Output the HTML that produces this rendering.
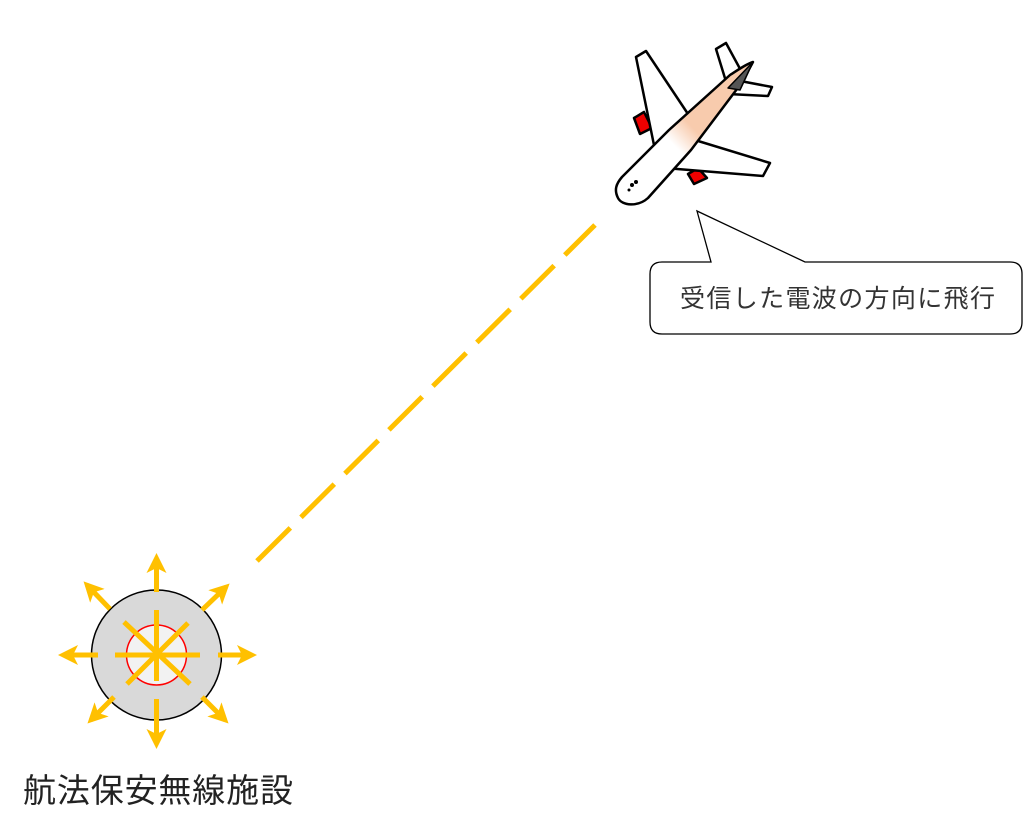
<!DOCTYPE html>
<html><head><meta charset="utf-8"><style>
html,body{margin:0;padding:0;background:#fff;width:1024px;height:834px;overflow:hidden}
svg{display:block}
</style></head><body>
<svg width="1024" height="834" viewBox="0 0 1024 834" xmlns="http://www.w3.org/2000/svg">
<defs>
<marker id="ah" markerWidth="4" markerHeight="4" refX="3" refY="2" orient="auto" markerUnits="strokeWidth">
<path d="M0,0 L4,2 L0,4 L1,2 Z" fill="#FFC000"/>
</marker>
<linearGradient id="fg" x1="0" y1="1" x2="1" y2="0">
<stop offset="0.42" stop-color="#fff"/><stop offset="0.55" stop-color="#f8cbad"/><stop offset="1" stop-color="#f8cbad"/></linearGradient>
</defs>
<line x1="257" y1="561" x2="595" y2="225" stroke="#FFC000" stroke-width="5" stroke-dasharray="47 15"/>
<circle cx="156.5" cy="655" r="65" fill="#d9d9d9" stroke="#000" stroke-width="1.5"/>
<circle cx="156.5" cy="655" r="30" fill="#f2f2f2" stroke="#ff0000" stroke-width="1.5"/>
<g stroke="#FFC000" stroke-width="5">
<line x1="156.5" y1="610" x2="156.5" y2="681"/>
<line x1="115" y1="655" x2="200" y2="655"/>
<line x1="124" y1="622" x2="190" y2="684"/>
<line x1="188" y1="623" x2="127" y2="684"/>
</g>
<g stroke="#FFC000" stroke-width="5" marker-end="url(#ah)">
<line x1="156.5" y1="592" x2="156.5" y2="558"/>
<line x1="156.5" y1="699" x2="156.5" y2="744"/>
<line x1="218" y1="655" x2="252" y2="655"/>
<line x1="98" y1="655" x2="63" y2="655"/>
<line x1="202" y1="610" x2="226" y2="587"/>
<line x1="110" y1="609" x2="87" y2="585"/>
<line x1="202" y1="697" x2="225" y2="720"/>
<line x1="114" y1="697" x2="91" y2="720"/>
</g>
<text x="23" y="802" font-family="'Liberation Sans','Noto Sans CJK JP',sans-serif" font-size="33" fill="#222" textLength="270">航法保安無線施設</text>
<path d="M662,262 L711,262 L697,211 L805,262 L1010,262 Q1022,262 1022,274 L1022,322 Q1022,334 1010,334 L662,334 Q650,334 650,322 L650,274 Q650,262 662,262 Z" fill="#fff" stroke="#000" stroke-width="1.3"/>
<text x="680" y="307" font-family="'Liberation Sans','Noto Sans CJK JP',sans-serif" font-size="25" fill="#333" textLength="315">受信した電波の方向に飛行</text>
<g stroke="#000" stroke-width="2.5" stroke-linejoin="round">
<path d="M634,118 L644,112 L652,128 L640,134 Z" fill="#e00"/>
<path d="M688,174 L698,168 L707,178 L694,184 Z" fill="#e00"/>
<path d="M636,57 L646,51 L692,120 L655,150 Z" fill="#fff"/>
<path d="M685,137 L770,163 L763,176 L665,168 Z" fill="#fff"/>
<path d="M716,49 L726,43 L745,78 L728,88 Z" fill="#fff"/>
<path d="M735,80 L772,87 L768,96 L728,94 Z" fill="#fff"/>
<path d="M753,62 C748,72 742,80 740,85 L691,150 L648,198 C638,207 622,206 618,198 C614,190 616,184 622,177 L669,130 L730,75 C738,70 746,64 753,62 Z" fill="url(#fg)"/>
<path d="M753,62 L728,88 L740,90 Z" fill="#555" stroke-width="1.5"/>
</g>
<circle cx="632" cy="185" r="2" fill="#000"/><circle cx="636" cy="182" r="2" fill="#000"/><circle cx="629" cy="190" r="1.5" fill="#000"/>
</svg>
</body></html>
